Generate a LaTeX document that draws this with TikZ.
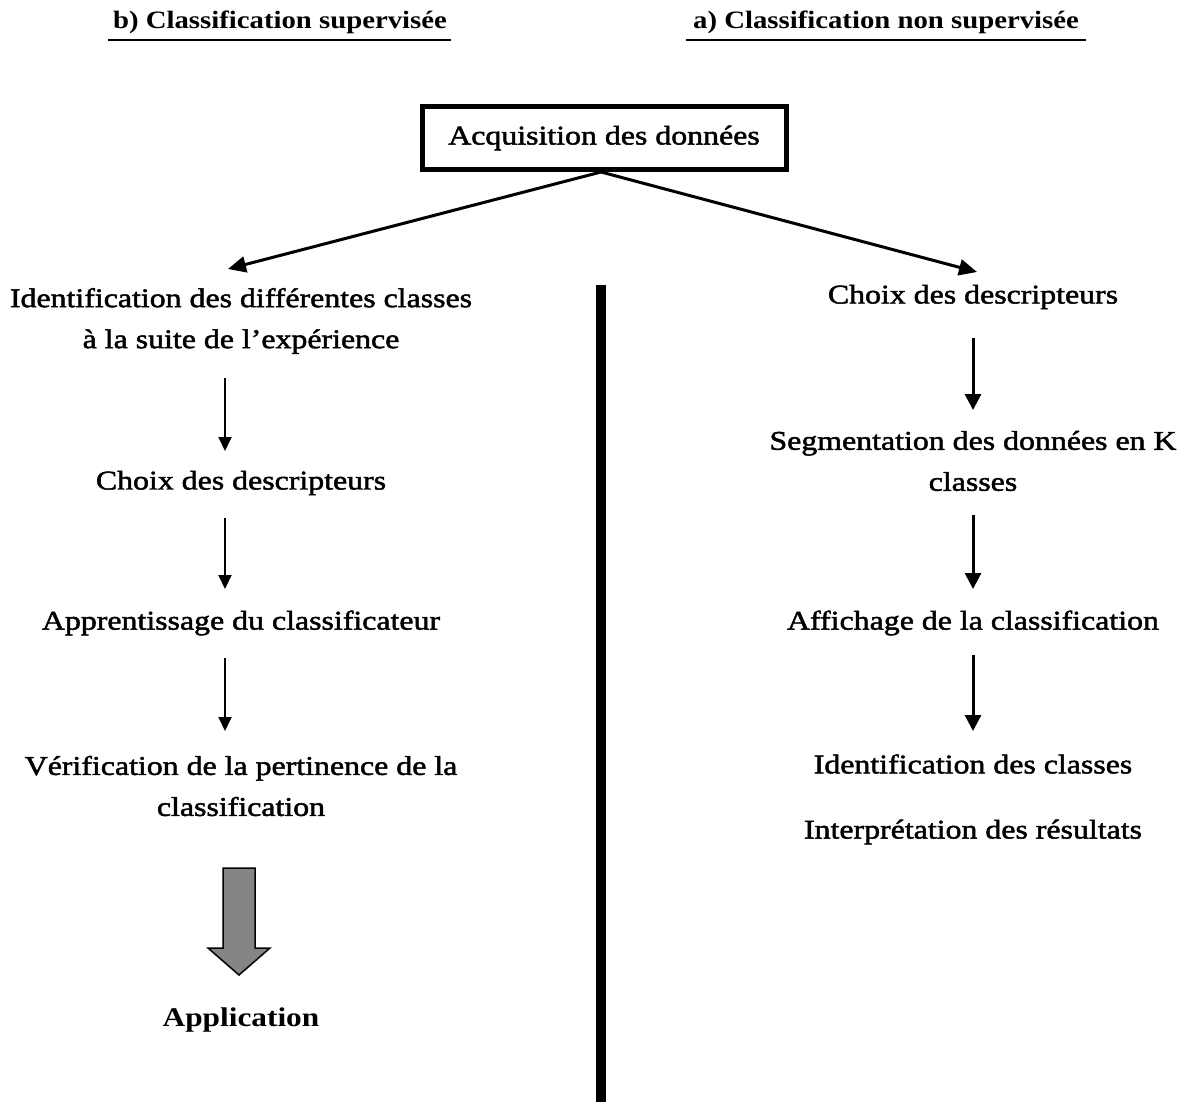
\documentclass[tikz,border=0pt]{standalone}
\usepackage{fontspec}
\setmainfont{Liberation Serif}
\newfontfamily\bodyfont[FakeStretch=1.18,FakeBold=1.8]{Liberation Serif}
\newfontfamily\appfont[FakeStretch=1.16]{Liberation Serif Bold}
\newfontfamily\titlefont[FakeStretch=1.15]{Liberation Serif Bold}
\usetikzlibrary{arrows.meta}
\begin{document}
\begin{tikzpicture}[x=1pt,y=-1pt,
  txt/.style={font=\bodyfont\fontsize{27}{41}\selectfont, align=center, inner sep=0pt},
  ttl/.style={font=\titlefont\fontsize{25}{28}\selectfont, inner sep=0pt},
  thinarr/.style={line width=2pt, -{Triangle[length=14pt,width=13pt]}},
  thickarr/.style={line width=3pt, -{Triangle[length=16pt,width=16pt]}},
  diag/.style={line width=3pt, -{Triangle[length=18pt,width=16pt]}}]
\useasboundingbox (0,0) rectangle (1186,1102);
% titles
\node[ttl] (tb) at (280,22) {b) Classification supervisée};
\node[ttl] (ta) at (886,22) {a) Classification non supervisée};
\draw[line width=2.5pt] (108,40) -- (451,40);
\draw[line width=2.5pt] (686,40) -- (1086,40);
% top box
\node[draw, line width=5pt, minimum width=364pt, minimum height=63pt, inner sep=0pt,
  font=\bodyfont\fontsize{27}{30}\selectfont] (acq) at (604,138) {Acquisition des données};
% divider
\coordinate (vtop) at (601,285);
\coordinate (vbot) at (601,1102);
\draw[line width=10pt] (vtop) -- (vbot);
% left column
\node[txt] (l1) at (241,321) {Identification des différentes classes\\à la suite de l’expérience};
\node[txt] (l2) at (241,483) {Choix des descripteurs};
\node[txt] (l3) at (241,623) {Apprentissage du classificateur};
\node[txt] (l4) at (241,786) {Vérification de la pertinence de la\\classification};
\node[txt, font=\appfont\fontsize{27}{41}\selectfont] (l5) at (241,1020) {Application};
% right column
\node[txt] (r1) at (973,297) {Choix des descripteurs};
\node[txt] (r2) at (973,461) {Segmentation des données en K\\classes};
\node[txt] (r3) at (973,623) {Affichage de la classification};
\node[txt] (r4) at (973,764) {Identification des classes};
\node[txt] (r5) at (973,832) {Interprétation des résultats};
% diagonal arrows
\coordinate (split) at (601,172);
\draw[diag] (split) -- (228,269);
\draw[diag] (split) -- (977,272);
% left arrows
\draw[thinarr] (225,378) -- (225,451);
\draw[thinarr] (225,518) -- (225,589);
\draw[thinarr] (225,658) -- (225,731);
% right arrows
\draw[thickarr] (973,338) -- (973,410);
\draw[thickarr] (973,515) -- (973,589);
\draw[thickarr] (973,655) -- (973,731);
% gray block arrow
\draw[line width=1.5pt, fill=gray!80!black!80, line join=miter]
  (223,868) -- (255,868) -- (255,948) -- (270,948) -- (239,975) -- (208,948) -- (223,948) -- cycle;
\end{tikzpicture}
\end{document}
